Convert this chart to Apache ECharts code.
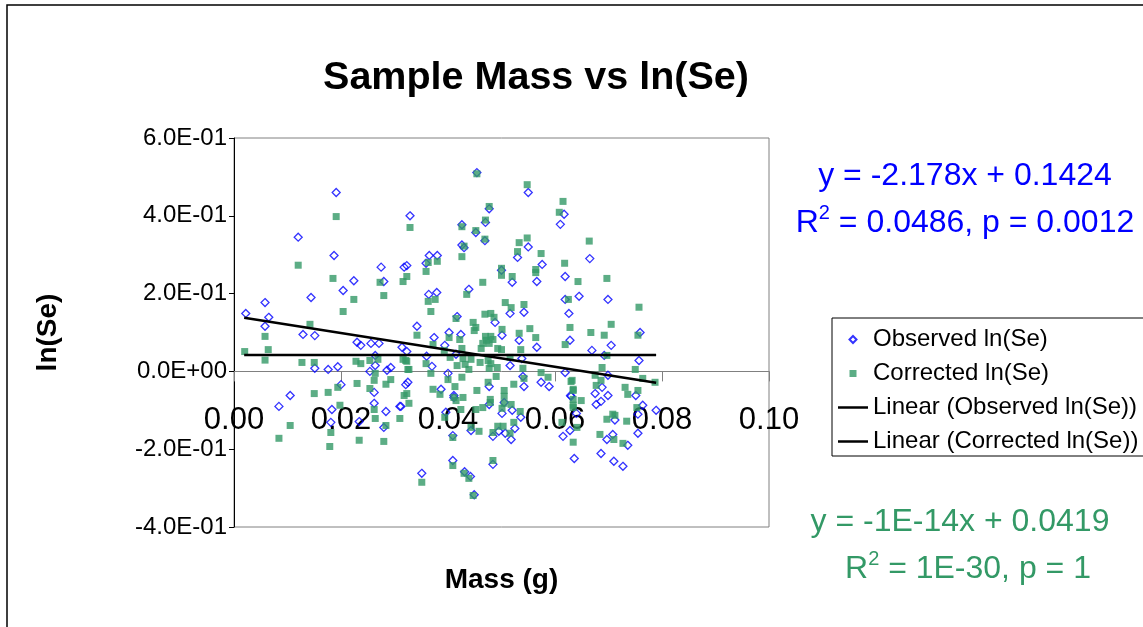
<!DOCTYPE html>
<html>
<head>
<meta charset="utf-8">
<script src="https://cdn.jsdelivr.net/npm/echarts@6/dist/echarts.min.js"></script>
<style>
html,body{margin:0;padding:0;background:#fff;}
#chart{width:1143px;height:627px;}
</style>
</head>
<body>
<div id="chart"></div>
<script>
// ---- Data ----
var observedPoints = [
[0.0191,0.460],[0.012,0.345],[0.0187,0.298],[0.0275,0.268],[0.0318,0.268],[0.0329,0.400],
[0.0454,0.511],[0.055,0.46],[0.0617,0.404],[0.061,0.378],[0.0477,0.418],[0.047,0.383],[0.0426,0.377],[0.0452,0.357],[0.0469,0.336],[0.043,0.318],[0.0426,0.325],[0.055,0.32],[0.053,0.293],[0.0576,0.275],[0.0365,0.298],[0.038,0.298],[0.0323,0.272],[0.0665,0.29],
[0.0224,0.233],[0.028,0.231],[0.0204,0.208],[0.0058,0.177],[0.0144,0.19],[0.0022,0.149],[0.0065,0.139],[0.0058,0.116],[0.0129,0.095],[0.0151,0.092],[0.023,0.075],[0.0237,0.067],[0.0256,0.072],[0.0271,0.072],[0.0314,0.062],[0.0264,0.041],[0.0151,0.008],[0.0176,0.005],[0.0194,0.012],[0.0264,0.015],[0.0254,0.0],[0.0286,0.003],[0.0293,0.01],[0.02,-0.034],[0.0321,-0.034],[0.0325,-0.028],[0.0105,-0.062],[0.0262,-0.054],
[0.0084,-0.09],[0.0183,-0.098],[0.0181,-0.131],[0.0234,-0.129],[0.0262,-0.082],[0.0284,-0.103],[0.028,-0.144],[0.031,-0.09],
[0.0359,0.278],[0.05,0.26],[0.052,0.229],[0.0566,0.231],[0.0619,0.244],[0.0439,0.211],[0.0364,0.198],[0.0379,0.203],[0.0542,0.152],[0.0516,0.149],[0.0619,0.185],[0.0626,0.149],[0.0417,0.141],[0.0488,0.126],[0.0342,0.116],[0.0501,0.093],[0.0533,0.08],[0.0566,0.062],[0.0628,0.08],[0.0374,0.087],[0.0402,0.1],[0.0424,0.095],[0.0323,0.051],[0.0394,0.067],[0.0415,0.044],[0.0538,0.033],[0.036,0.039],[0.037,0.013],[0.0516,0.015],[0.04,-0.005],[0.054,-0.013],[0.0619,-0.003],[0.0387,-0.046],[0.0477,-0.039],[0.0542,-0.039],[0.0574,-0.028],[0.0589,-0.039],[0.063,-0.064],[0.0411,-0.067],
[0.0312,-0.09],[0.0411,-0.062],[0.0396,-0.105],[0.0477,-0.085],[0.0505,-0.08],[0.0501,-0.108],[0.052,-0.1],[0.0536,-0.118],[0.0525,-0.147],[0.0495,-0.154],[0.0507,-0.159],[0.0518,-0.175],[0.0484,-0.167],[0.0443,-0.152],[0.0409,-0.165],[0.0629,-0.062],[0.0615,-0.167],[0.0628,-0.152],[0.0636,-0.224],[0.0484,-0.239],[0.0409,-0.229],[0.0351,-0.262],[0.0431,-0.258],[0.0442,-0.27],[0.0449,-0.317],
[0.0645,0.193],[0.0699,0.185],[0.0759,0.1],[0.0705,0.067],[0.0669,0.054],[0.0692,0.041],[0.0757,0.028],[0.0699,-0.01],[0.0688,-0.041],[0.0675,-0.057],[0.0699,-0.062],[0.0751,-0.062],[0.0677,-0.085],[0.0686,-0.077],[0.064,-0.108],[0.0755,-0.11],[0.0764,-0.087],[0.0789,-0.1],[0.0708,-0.162],[0.0697,-0.175],[0.0736,-0.19],[0.0755,-0.159],[0.0686,-0.211],[0.071,-0.231],[0.0727,-0.244],[0.0712,-0.125]
];
var correctedPoints = [
[0.0191,0.398],[0.012,0.273],[0.0329,0.37],[0.0454,0.508],[0.0548,0.48],[0.0615,0.437],[0.0608,0.409],[0.0477,0.424],[0.047,0.389],[0.0426,0.372],[0.0452,0.362],[0.0469,0.34],[0.043,0.322],[0.0426,0.295],[0.0533,0.331],[0.0548,0.343],[0.053,0.308],[0.0574,0.303],[0.0618,0.278],[0.0363,0.28],[0.038,0.283],[0.050,0.265],[0.0564,0.262],[0.0664,0.335],
[0.0323,0.244],[0.0185,0.239],[0.0273,0.229],[0.0316,0.231],[0.028,0.195],[0.0224,0.185],[0.0204,0.154],[0.0142,0.121],[0.0058,0.09],[0.002,0.051],[0.0064,0.056],[0.0058,0.029],[0.0127,0.023],[0.015,0.023],[0.0228,0.026],[0.0237,0.02],[0.0254,0.028],[0.0269,0.031],[0.0316,0.031],[0.0323,0.026],[0.0264,-0.005],[0.0325,0.005],[0.023,-0.031],[0.0262,-0.023],[0.0293,-0.021],[0.0284,-0.033],[0.0194,-0.041],[0.0254,-0.044],[0.015,-0.057],[0.0176,-0.054],[0.0318,-0.062],[0.0323,-0.057],
[0.0105,-0.139],[0.0084,-0.172],[0.0181,-0.157],[0.0179,-0.193],[0.0198,-0.087],[0.0234,-0.177],[0.0262,-0.098],[0.0264,-0.121],[0.0284,-0.139],[0.028,-0.18],[0.031,-0.121],[0.0327,-0.082],
[0.0359,0.257],[0.05,0.247],[0.052,0.244],[0.0564,0.254],[0.0643,0.231],[0.0465,0.229],[0.0435,0.198],[0.0363,0.18],[0.0376,0.185],[0.0368,0.154],[0.0507,0.177],[0.0518,0.164],[0.0542,0.172],[0.0625,0.185],[0.0415,0.136],[0.048,0.149],[0.0469,0.147],[0.0486,0.139],[0.0342,0.093],[0.0447,0.126],[0.0452,0.113],[0.0449,0.105],[0.0465,0.072],[0.047,0.09],[0.048,0.09],[0.0484,0.082],[0.0472,0.08],[0.0477,0.072],[0.0501,0.108],[0.0533,0.098],[0.0553,0.11],[0.0564,0.087],[0.0628,0.113],[0.0619,0.069],[0.0372,0.069],[0.0402,0.087],[0.0422,0.082],[0.0393,0.054],[0.0426,0.059],[0.0462,0.059],[0.0493,0.059],[0.05,0.056],[0.0516,0.036],[0.0536,0.056],[0.0359,0.02],[0.0321,0.028],[0.0404,0.036],[0.0428,0.033],[0.0443,0.031],[0.046,0.023],[0.0417,0.015],[0.0432,0.018],[0.0439,0.005],[0.0475,0.028],[0.048,0.02],[0.0477,0.008],[0.0492,0.01],[0.0327,0.005],[0.054,0.008],[0.0368,-0.005],[0.0426,-0.015],[0.04,-0.021],[0.049,-0.013],[0.0542,-0.018],[0.0574,-0.003],[0.0587,-0.015],[0.063,-0.026],[0.0413,-0.039],[0.0372,-0.046],[0.0385,-0.059],[0.0454,-0.049],[0.0475,-0.028],[0.0505,-0.049],[0.0523,-0.033],[0.0634,-0.046],[0.0428,-0.067],[0.0479,-0.072],[0.0505,-0.064],[0.0411,-0.067],
[0.0415,-0.075],[0.0424,-0.098],[0.0394,-0.118],[0.0452,-0.098],[0.0465,-0.093],[0.0479,-0.08],[0.0505,-0.082],[0.0518,-0.085],[0.0501,-0.095],[0.0535,-0.103],[0.0523,-0.131],[0.0493,-0.141],[0.0503,-0.141],[0.0516,-0.159],[0.0484,-0.157],[0.0443,-0.144],[0.0458,-0.154],[0.0409,-0.17],[0.0634,-0.072],[0.0634,-0.093],[0.0634,-0.182],[0.0641,-0.144],[0.0613,-0.131],[0.0484,-0.229],[0.0409,-0.242],[0.0351,-0.285],[0.043,-0.262],[0.0439,-0.275],[0.0447,-0.319],
[0.0697,0.239],[0.0757,0.165],[0.0705,0.121],[0.0667,0.1],[0.0692,0.093],[0.0755,0.093],[0.0697,0.041],[0.0688,0.01],[0.075,0.005],[0.0675,-0.01],[0.0686,-0.023],[0.0764,-0.018],[0.0787,-0.028],[0.0632,-0.023],[0.0677,-0.036],[0.0634,-0.049],[0.0731,-0.041],[0.0736,-0.059],[0.0755,-0.049],[0.0649,-0.075],[0.0634,-0.087],[0.0697,-0.123],[0.0708,-0.11],[0.0712,-0.113],[0.0734,-0.128],[0.0753,-0.093],[0.0684,-0.162],[0.071,-0.175],[0.0727,-0.185]
];
// Trendline end points (as drawn in the reference)
var trendObserved = [[0.0019,0.138],[0.0789,-0.029]];
var trendCorrected = [[0.0019,0.0419],[0.0789,0.0419]];
var seriesNames = ['Observed ln(Se)','Corrected ln(Se)','Linear (Observed ln(Se))','Linear (Corrected ln(Se))'];
var titleText = 'Sample Mass vs ln(Se)';
var xAxisTitle = 'Mass (g)';
var yAxisTitle = 'ln(Se)';
var eqObserved = ['y = -2.178x + 0.1424', '= 0.0486, p = 0.0012'];
var eqCorrected = ['y = -1E-14x + 0.0419', '= 1E-30, p = 1'];
var xMin = 0, xMax = 0.1, xStep = 0.02;
var yMin = -0.4, yMax = 0.6, yStep = 0.2;

var FONT = '"Liberation Sans", Arial, sans-serif';
function sci(v){
  if (Math.abs(v) < 1e-12) return '0.0E+00';
  var s = v.toExponential(1).split('e');
  var e = parseInt(s[1],10);
  var sign = e < 0 ? '-' : '+';
  var d = Math.abs(e);
  return s[0] + 'E' + sign + (d < 10 ? '0' : '') + d;
}
function r2Text(x, y, rest, color){
  return {type: 'text', x: x, y: y, style: {
    text: '{a|R}{s|2}{a| ' + rest + '}', fill: color, align: 'center', verticalAlign: 'middle',
    rich: {
      a: {fontSize: 32, fontFamily: FONT, lineHeight: 36, fill: color, verticalAlign: 'bottom'},
      s: {fontSize: 20, fontFamily: FONT, lineHeight: 22, fill: color, verticalAlign: 'top'}
    }}};
}

var chart = echarts.init(document.getElementById('chart'), null, {renderer:'canvas'});
chart.setOption({
  animation: false,
  backgroundColor: '#fff',
  title: {
    text: titleText, left: 531, top: 53, textAlign: 'center',
    textStyle: {fontSize: 39.5, fontWeight: 'bold', color: '#000', fontFamily: FONT}
  },
  grid: {left: 234, top: 138, width: 535, height: 389, show: true, borderColor: '#808080', borderWidth: 1,
         backgroundColor: '#fff', containLabel: false, outerBoundsMode: 'none'},
  legend: {
    orient: 'vertical', left: 832, top: 318, padding: [8, 20, 1, 6],
    borderColor: '#000', borderWidth: 1, itemWidth: 30, itemHeight: 7, itemGap: 7,
    symbolKeepAspect: true,
    textStyle: {fontSize: 24, lineHeight: 27, color: '#000', fontFamily: FONT},
    data: [
      {name: seriesNames[0], icon: 'path://M5,0L10,5L5,10L0,5Z'},
      {name: seriesNames[1], icon: 'path://M0,0H10V10H0Z'},
      {name: seriesNames[2], icon: 'path://M0,0H12V1H0Z'},
      {name: seriesNames[3], icon: 'path://M0,0H12V1H0Z'}
    ]
  },
  xAxis: {
    type: 'value', min: xMin, max: xMax, interval: xStep,
    name: xAxisTitle, nameLocation: 'middle', nameGap: 39,
    nameTextStyle: {fontSize: 28, fontWeight: 'bold', color: '#000', fontFamily: FONT},
    axisLine: {show: true, onZero: true, lineStyle: {color: '#808080', width: 1}},
    axisTick: {show: true, length: 10, lineStyle: {color: '#808080'}},
    axisLabel: {fontSize: 31, color: '#000', margin: -122, fontFamily: FONT, formatter: function(v){return v.toFixed(2);}},
    splitLine: {show: false}
  },
  yAxis: {
    type: 'value', min: yMin, max: yMax, interval: yStep,
    name: yAxisTitle, nameLocation: 'middle', nameGap: 172,
    nameTextStyle: {fontSize: 28, fontWeight: 'bold', color: '#000', fontFamily: FONT},
    axisLine: {show: true, onZero: false, lineStyle: {color: '#000', width: 1}},
    axisTick: {show: true, length: 5, lineStyle: {color: '#000'}},
    axisLabel: {fontSize: 24, color: '#000', margin: 7, fontFamily: FONT, formatter: sci},
    splitLine: {show: false}
  },
  series: [
    {name: seriesNames[0], type: 'scatter', data: observedPoints, symbol: 'diamond', symbolSize: 8,
     itemStyle: {color: 'rgba(255,255,255,0)', borderColor: '#0000ff', borderWidth: 1.3}, z: 2},
    {name: seriesNames[1], type: 'scatter', data: correctedPoints, symbol: 'rect', symbolSize: 7,
     itemStyle: {color: '#339966'}, z: 3},
    {name: seriesNames[2], type: 'line', data: trendObserved, symbol: 'none', showSymbol: false,
     lineStyle: {color: '#000', width: 2.5}, itemStyle: {color: '#000'}, z: 4},
    {name: seriesNames[3], type: 'line', data: trendCorrected, symbol: 'none', showSymbol: false,
     lineStyle: {color: '#000', width: 2.5}, itemStyle: {color: '#000'}, z: 4}
  ],
  graphic: [
    {type: 'rect', z: -10, silent: true, shape: {x: 7, y: 5, width: 1160, height: 650},
     style: {fill: 'none', stroke: '#000', lineWidth: 1.5}},
    {type: 'text', x: 965, y: 176, style: {text: eqObserved[0], fill: '#0000ff', font: '32px ' + FONT, align: 'center', verticalAlign: 'middle'}},
    r2Text(965, 221, eqObserved[1], '#0000ff'),
    {type: 'text', x: 960, y: 522, style: {text: eqCorrected[0], fill: '#339966', font: '32px ' + FONT, align: 'center', verticalAlign: 'middle'}},
    r2Text(968, 567, eqCorrected[1], '#339966')
  ]
});
</script>
</body>
</html>
